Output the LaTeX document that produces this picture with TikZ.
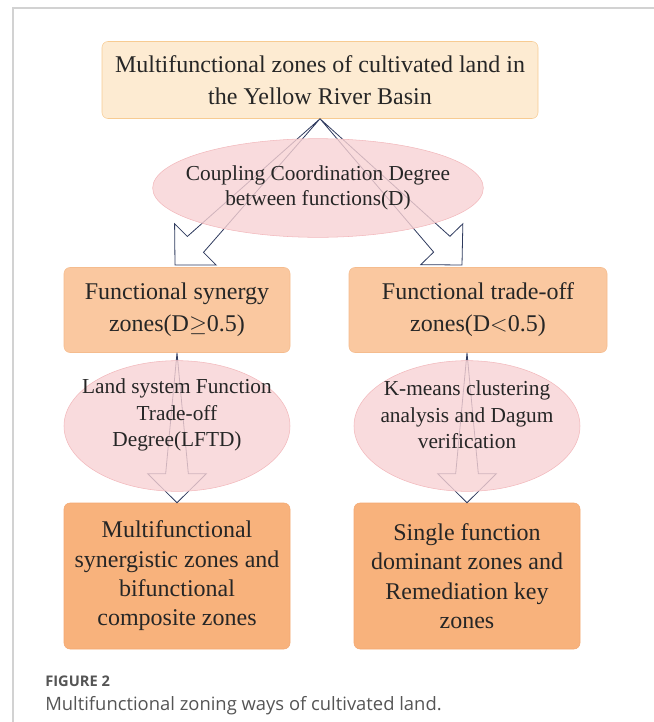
\documentclass[tikz,border=0pt]{standalone}
\usepackage{fontspec}
\setmainfont{Liberation Serif}
\newfontfamily\capfont{Open Sans}
\usetikzlibrary{shapes.geometric,calc}

\definecolor{peachlight}{HTML}{FDEBD2}
\definecolor{peachline}{HTML}{F7CB92}
\definecolor{peachmid}{HTML}{FAC8A0}
\definecolor{peachmidline}{HTML}{F5BC8E}
\definecolor{peachdeep}{HTML}{F8B27C}
\definecolor{peachdeepline}{HTML}{F3A872}
\definecolor{pinkfill}{HTML}{F8D2D4}
\definecolor{pinkline}{HTML}{F2B8BC}
\definecolor{navy}{HTML}{2E3A5E}
\definecolor{framegray}{HTML}{D2D2D2}
\definecolor{capgray}{HTML}{555555}

\tikzset{
  zonebox/.style={rectangle, rounded corners=4.5pt, align=center, inner sep=0pt, text=black!85, font=\fontsize{18}{24}\selectfont},
  methodell/.style={ellipse, draw=pinkline, fill=pinkfill, fill opacity=0.8, inner sep=0pt},
  methodtext/.style={align=center, inner sep=0pt, text=black!85, font=\fontsize{16}{20}\selectfont},
  arrowline/.style={draw=navy, fill=white, line width=0.6pt, line join=miter},
}

\def\headlen{21.75pt}
\def\headw{22pt}
\def\shaftw{8.5pt}
\newcommand{\hollowarrow}[2]{%
  \coordinate (h) at ($(#2)!\headlen!(#1)$);
  \draw[arrowline] (#1) -- ($(h)!\shaftw!90:(#2)$) -- ($(h)!\headw!90:(#2)$) -- (#2)
    -- ($(h)!\headw!-90:(#2)$) -- ($(h)!\shaftw!-90:(#2)$) -- cycle;
}

\begin{document}
\begin{tikzpicture}[x=0.75pt,y=-0.75pt]
  \useasboundingbox (0,0) rectangle (654,722);
  \draw[framegray, line width=1pt] (13,722) -- (13,8) -- (654,8);

  \node[zonebox, draw=peachline, fill=peachlight, minimum width=327pt, minimum height=57.75pt] (top) at (320,80)
    {Multifunctional zones of cultivated land in\\the Yellow River Basin};

  \node[zonebox, draw=peachmidline, fill=peachmid, minimum width=169.5pt, minimum height=63.75pt] (synL) at (177,310)
    {Functional synergy\\zones(D$\geq$0.5)};
  \node[zonebox, draw=peachmidline, fill=peachmid, minimum width=193.5pt, minimum height=63.75pt] (offR) at (478,310)
    {Functional trade-off\\zones(D$<$0.5)};

  \node[zonebox, draw=peachdeepline, fill=peachdeep, minimum width=169.5pt, minimum height=109.5pt, font=\fontsize{18}{22}\selectfont] (botL) at (177,576)
    {Multifunctional\\synergistic zones and\\bifunctional\\composite zones};
  \node[zonebox, draw=peachdeepline, fill=peachdeep, minimum width=169.5pt, minimum height=109.5pt, font=\fontsize{18}{22}\selectfont] (botR) at (467,576)
    {Single function\\dominant zones and\\Remediation key\\zones};

  \coordinate (tipL) at (175,265);
  \coordinate (tipR) at (462,265);
  \coordinate (tailR) at (botR.north |- offR.south);

  \hollowarrow{top.south}{tipL}
  \hollowarrow{top.south}{tipR}
  \hollowarrow{synL.south}{botL.north}
  \hollowarrow{tailR}{botR.north}

  \node[methodell, minimum width=248pt, minimum height=74pt] (ccd) at (318,188) {};
  \node[methodtext, font=\fontsize{16}{19}\selectfont] (ccdtext) at (ccd) {Coupling Coordination Degree\\between functions(D)};

  \node[methodell, minimum width=169.5pt, minimum height=98pt] (lftd) at (177,426) {};
  \node[methodtext] (lftdtext) at ($(lftd)+(0,-11)$) {Land system Function\\Trade-off\\Degree(LFTD)};

  \node[methodell, minimum width=169.5pt, minimum height=98pt] (kmeans) at (467,426) {};
  \node[methodtext] (kmeanstext) at ($(kmeans)+(0,-11)$) {K-means clustering\\analysis and Dagum\\verification};

  \node[anchor=base west, inner sep=0pt, text=capgray, font=\capfont\fontsize{11}{13}\selectfont\bfseries] (fig) at (45,686) {FIGURE 2};
  \node[anchor=base west, inner sep=0pt, text=capgray, font=\capfont\fontsize{13.8}{16}\selectfont] (cap) at (45,710)
    {Multifunctional zoning ways of cultivated land.};
\end{tikzpicture}
\end{document}
